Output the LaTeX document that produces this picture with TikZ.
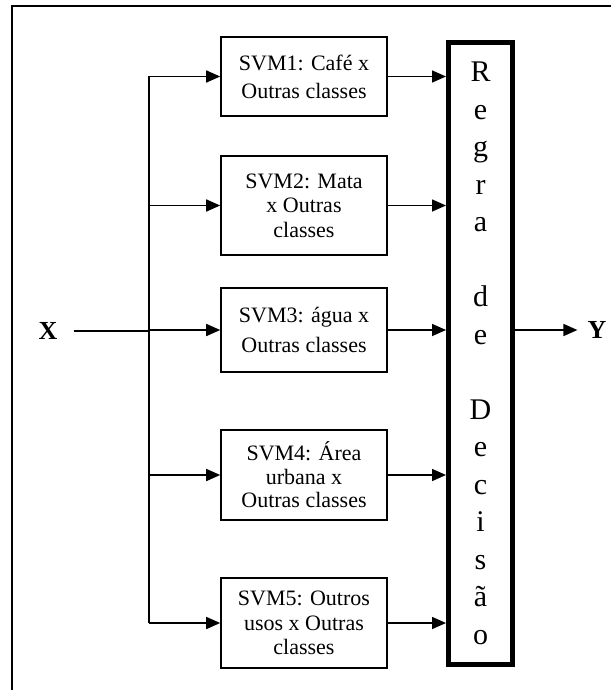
\documentclass[tikz,border=0pt]{standalone}
\usepackage{fontspec}
\setmainfont{Liberation Serif}
\usetikzlibrary{arrows.meta,calc}

\begin{document}
\begin{tikzpicture}[x=1pt,y=-1pt,
    svmbox/.style={draw, line width=1.6pt, minimum width=166pt, align=center,
        inner sep=0pt, font=\fontsize{22}{28}\selectfont},
    arr/.style={line width=1.6pt, -{Triangle[length=14pt,width=12pt]}},
    io/.style={inner sep=0pt, font=\fontsize{26}{30}\selectfont\bfseries}]
    \useasboundingbox (0,0) rectangle (611,690);

    % Frame around the figure
    \draw[line width=2pt] (12,690) -- (12,6) -- (611,6);

    % Input and output
    \node[io] (inX) at (48,331) {X};
    \node[io] (outY) at (597,330) {Y};

    % The five classifiers
    \node[svmbox, minimum height=79pt] (svm1) at (304,76.5) {SVM1: Café x\\Outras classes};
    \node[svmbox, minimum height=99pt, font=\fontsize{22}{24.5}\selectfont] (svm2) at (304,205.5) {SVM2: Mata\\x Outras\\classes};
    \node[svmbox, minimum height=84pt, font=\fontsize{22}{30}\selectfont] (svm3) at (304,330) {SVM3: água x\\Outras classes};
    \node[svmbox, minimum height=90pt, font=\fontsize{22}{23.5}\selectfont] (svm4) at (304,475) {SVM4: Área\\urbana x\\Outras classes};
    \node[svmbox, minimum height=90pt, font=\fontsize{22}{24.5}\selectfont] (svm5) at (304,623) {SVM5: Outros\\usos x Outras\\classes};

    % Decision rule
    \node[draw, line width=5pt, minimum width=64pt, minimum height=622pt, inner sep=0pt,
        align=center, font=\fontsize{30}{37.5}\selectfont] (regra) at (480.5,353.5)
        {R\\e\\g\\r\\a\\~\\d\\e\\~\\D\\e\\c\\i\\s\\ã\\o};

    % Distribution bus
    \coordinate (busTop) at (149,76.5);
    \coordinate (busBot) at (149,623);
    \draw[line width=1.6pt] (busTop) -- (busBot);
    \draw[line width=1.6pt] ([xshift=16pt]inX.east) -- (inX -| busTop);

    \foreach \i in {1,...,5} {
        \draw[arr] (busTop |- svm\i) -- (svm\i.west);
        \draw[arr] (svm\i.east) -- (svm\i.east -| regra.west);
    }

    \draw[arr] (regra.east |- outY) -- ([xshift=-10pt]outY.west);
\end{tikzpicture}
\end{document}
